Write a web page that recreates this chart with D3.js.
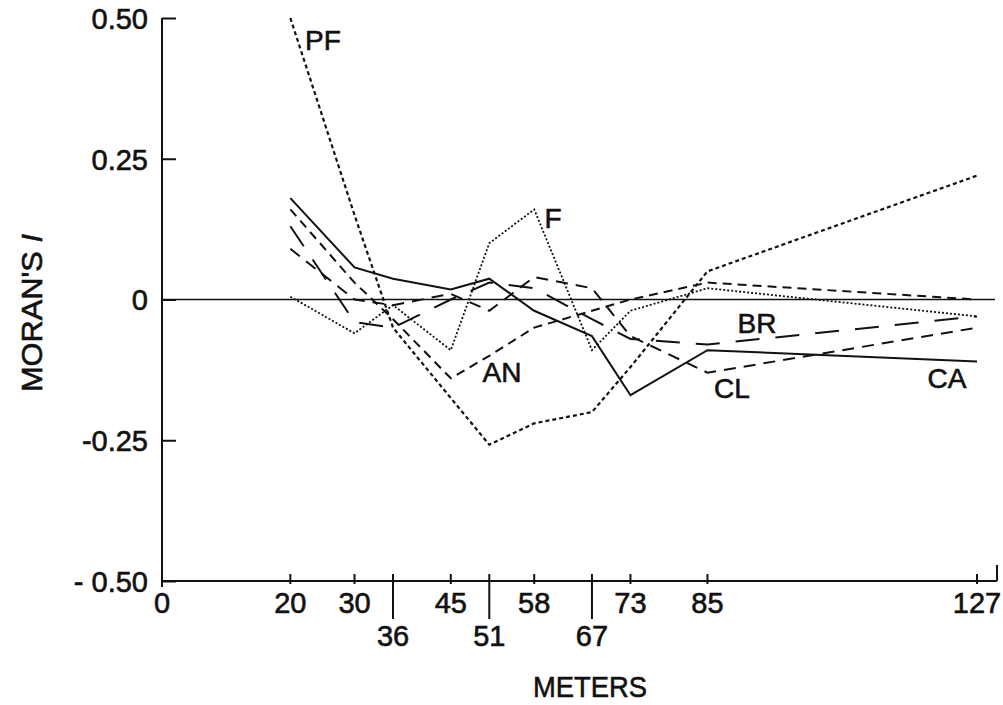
<!DOCTYPE html>
<html>
<head>
<meta charset="utf-8">
<script src="https://cdn.jsdelivr.net/npm/d3@7"></script>
<style>
  body { margin: 0; background: #fff; }
  svg text { font-family: "Liberation Sans", Arial, sans-serif; fill: #111; stroke: #111; stroke-width: 0.6px; }
</style>
</head>
<body>
<div id="chart"></div>
<script>
// distances (meters) where Moran's I was computed
var distances = [20, 30, 36, 45, 51, 58, 67, 73, 85, 127];

// Moran's I per species
var caValues = [0.18, 0.057, 0.037, 0.018, 0.037, -0.02, -0.065, -0.17, -0.09, -0.11];
var pfValues = [0.50, 0.15, -0.05, -0.175, -0.258, -0.22, -0.20, -0.12, 0.05, 0.22];
var fValues  = [0.005, -0.06, -0.01, -0.09, 0.10, 0.16, -0.09, -0.02, 0.02, -0.03];
var anValues = [0.16, 0.03, -0.035, -0.14, -0.10, -0.05, -0.02, 0.0, 0.03, 0.0];
var brValues = [0.13, -0.04, -0.05, 0.0, 0.03, 0.02, -0.035, -0.07, -0.08, -0.03];
var clValues = [0.09, 0.0, -0.01, 0.01, -0.02, 0.04, 0.02, -0.065, -0.13, -0.05];

var seriesNames = ["CA", "PF", "F", "AN", "BR", "CL"];

// axis ticks
var xTickValues = [0, 20, 30, 36, 45, 51, 58, 67, 73, 85, 127];
var xLowTicks = [36, 51, 67];
var yTickValues = [0.5, 0.25, 0, -0.25, -0.5];
var yTickLabels = ["0.50", "0.25", "0", "-0.25", "- 0.50"];

var width = 1003, height = 705;

var svg = d3.select("#chart").append("svg")
  .attr("width", width)
  .attr("height", height);

var x = d3.scaleLinear().domain([0, 127]).range([162, 977]);
var y = d3.scaleLinear().domain([-0.5, 0.5]).range([581, 18]);

// 線型設定
var lineStyle = {
  CA: { dash: null, w: 2 },
  PF: { dash: "4,3", w: 2.2 },
  F:  { dash: "2,2", w: 1.8 },
  AN: { dash: "9,6", w: 2 },
  BR: { dash: "24,16", w: 2 },
  CL: { dash: "12,8", w: 2 }
};

var seriesData = {
  CA: caValues, PF: pfValues, F: fValues, AN: anValues, BR: brValues, CL: clValues
};

// y 軸
var yAxis = d3.axisLeft(y)
  .tickValues(yTickValues)
  .tickSize(-14)
  .tickFormat(function (d, i) { return yTickLabels[i]; });

var gy = svg.append("g")
  .attr("transform", "translate(162,0)")
  .call(yAxis);
gy.select(".domain").remove();
gy.selectAll(".tick line").attr("stroke", "#111").attr("stroke-width", 2);
gy.selectAll(".tick text")
  .attr("x", -14)
  .attr("dy", "0.36em")
  .style("font-size", "29px");

svg.append("line")
  .attr("x1", 162).attr("x2", 162)
  .attr("y1", y(0.5)).attr("y2", y(-0.5) + 6)
  .attr("stroke", "#111").attr("stroke-width", 2);

// x 軸
svg.append("line")
  .attr("x1", 162).attr("x2", 997)
  .attr("y1", y(-0.5)).attr("y2", y(-0.5))
  .attr("stroke", "#111").attr("stroke-width", 2);
svg.append("line")
  .attr("x1", 997).attr("x2", 997)
  .attr("y1", y(-0.5) - 16).attr("y2", y(-0.5))
  .attr("stroke", "#111").attr("stroke-width", 2);

var ticks = svg.append("g").selectAll("g")
  .data(xTickValues.filter(function (d) { return d > 0; }))
  .enter().append("g")
  .attr("transform", function (d) { return "translate(" + x(d) + ",0)"; });

ticks.append("line")
  .attr("y1", y(-0.5) - 7)
  .attr("y2", function (d) { return xLowTicks.indexOf(d) >= 0 ? y(-0.5) + 38 : y(-0.5) + 3; })
  .attr("stroke", "#111").attr("stroke-width", 2);

ticks.append("text")
  .attr("text-anchor", "middle")
  .attr("y", function (d) { return xLowTicks.indexOf(d) >= 0 ? 646 : 613; })
  .style("font-size", "29px")
  .text(function (d) { return d; });

svg.append("text")
  .attr("x", x(0)).attr("y", 613)
  .attr("text-anchor", "middle")
  .style("font-size", "29px")
  .text("0");

// 零線
svg.append("line")
  .attr("x1", 162).attr("x2", 995)
  .attr("y1", y(0)).attr("y2", y(0))
  .attr("stroke", "#111").attr("stroke-width", 1.5);

// 折線
var line = d3.line()
  .x(function (d) { return x(d[0]); })
  .y(function (d) { return y(d[1]); });

seriesNames.forEach(function (name) {
  var pts = distances.map(function (d, i) { return [d, seriesData[name][i]]; });
  svg.append("path")
    .datum(pts)
    .attr("d", line)
    .attr("fill", "none")
    .attr("stroke", "#111")
    .attr("stroke-width", lineStyle[name].w)
    .attr("stroke-dasharray", lineStyle[name].dash);
});

// 標籤位置 (像素)
var labels = [
  { t: "PF", px: 323, py: 50 },
  { t: "F", px: 553, py: 228 },
  { t: "AN", px: 502, py: 382 },
  { t: "BR", px: 757, py: 333 },
  { t: "CL", px: 732, py: 398 },
  { t: "CA", px: 947, py: 388 }
];
svg.append("g").selectAll("text")
  .data(labels)
  .enter().append("text")
  .attr("x", function (d) { return d.px; })
  .attr("y", function (d) { return d.py; })
  .attr("text-anchor", "middle")
  .style("font-size", "28px")
  .text(function (d) { return d.t; });

// 軸標題
svg.append("text")
  .attr("x", 533).attr("y", 697)
  .attr("textLength", 114)
  .attr("lengthAdjust", "spacingAndGlyphs")
  .style("font-size", "30px")
  .text("METERS");

var yl = svg.append("text")
  .attr("transform", "translate(42,392) rotate(-90)")
  .attr("textLength", 158)
  .attr("lengthAdjust", "spacingAndGlyphs")
  .style("font-size", "29px");
yl.append("tspan").text("MORAN'S ");
yl.append("tspan").style("font-style", "italic").text("I");
</script>
</body>
</html>
